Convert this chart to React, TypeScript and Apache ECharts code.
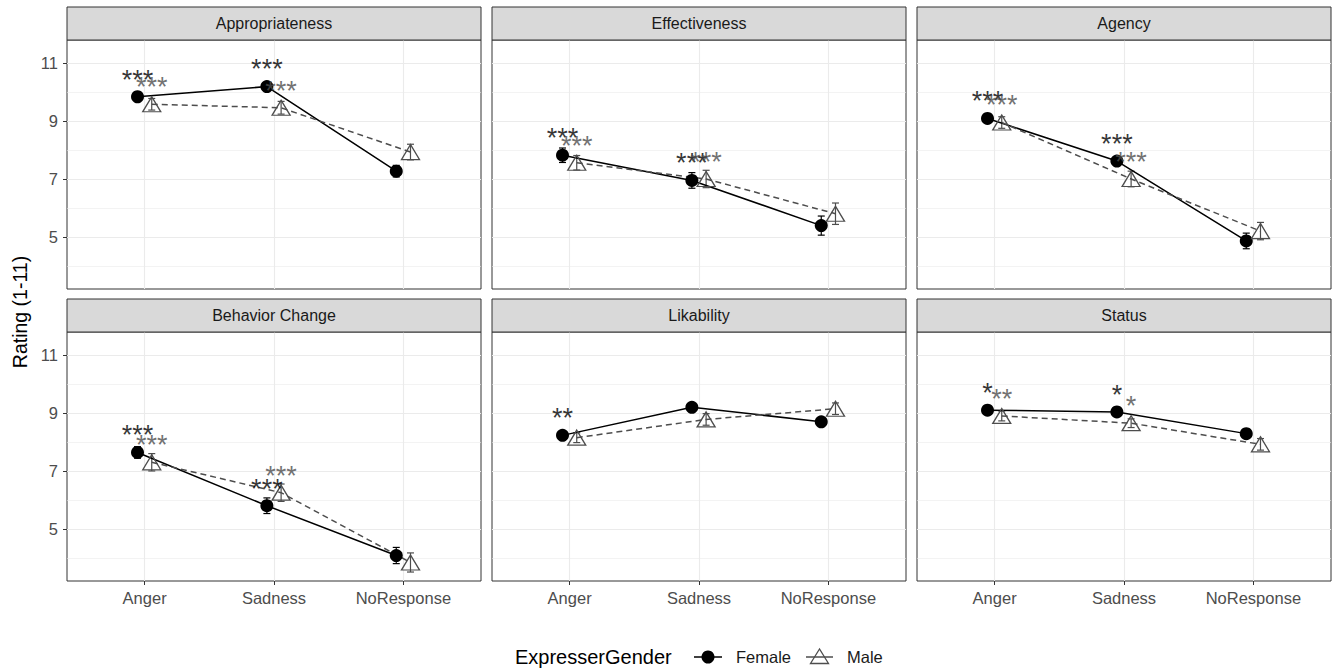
import React, { useEffect, useRef } from "react";
import * as echarts from "echarts";

const panelTitles = ["Appropriateness", "Effectiveness", "Agency", "Behavior Change", "Likability", "Status"];
const categories = ["Anger", "Sadness", "NoResponse"];
const yTickValues = [5, 7, 9, 11];
const yMinorValues = [4, 6, 8, 10];

const femaleMeans = [
  [9.84, 10.19, 7.27],
  [7.82, 6.95, 5.39],
  [9.09, 7.62, 4.86],
  [7.64, 5.8, 4.08],
  [8.23, 9.2, 8.7],
  [9.1, 9.04, 8.29],
];
const maleMeans = [
  [9.58, 9.46, 7.93],
  [7.56, 7.0, 5.8],
  [8.95, 7.0, 5.2],
  [7.3, 6.25, 3.84],
  [8.15, 8.78, 9.15],
  [8.9, 8.65, 7.92],
];
const femaleErr = [
  [0.12, 0.1, 0.2],
  [0.25, 0.27, 0.33],
  [0.12, 0.12, 0.27],
  [0.2, 0.27, 0.28],
  [0.12, 0.08, 0.1],
  [0.1, 0.08, 0.12],
];
const maleErr = [
  [0.2, 0.22, 0.27],
  [0.25, 0.3, 0.37],
  [0.2, 0.27, 0.3],
  [0.3, 0.3, 0.33],
  [0.17, 0.2, 0.2],
  [0.17, 0.15, 0.2],
];
const femaleStars = [
  ["***", "***", ""],
  ["***", "***", ""],
  ["***", "***", ""],
  ["***", "***", ""],
  ["**", "", ""],
  ["*", "*", ""],
];
const maleStars = [
  ["***", "***", ""],
  ["***", "***", ""],
  ["***", "***", ""],
  ["***", "***", ""],
  ["", "", ""],
  ["**", "*", ""],
];

const FONT = "'Liberation Sans', Arial, Helvetica, sans-serif";
const FEMALE_COLOR = "#000000";
const MALE_COLOR = "#4D4D4D";
const DODGE = 0.055;
const STAR_OFFSET = 0.8;

export default function App() {
  const ref = useRef<HTMLDivElement>(null);

  useEffect(() => {
    if (!ref.current) return;
    const chart = echarts.init(ref.current, null, { renderer: "svg" });

    const lefts = [67, 492, 917];
    const width = 414;
    const stripTops = [7, 299];
    const stripH = 33;
    const plotH = 249;

    const grids: any[] = [];
    const xAxes: any[] = [];
    const yAxes: any[] = [];
    const series: any[] = [];
    const graphics: any[] = [];

    panelTitles.forEach((title, p) => {
      const row = Math.floor(p / 3);
      const col = p % 3;
      const left = lefts[col];
      const top = stripTops[row] + stripH;
      grids.push({
        left,
        top,
        width,
        height: plotH,
        show: true,
        backgroundColor: "#FFFFFF",
        borderColor: "#333333",
        borderWidth: 1,
        containLabel: false,
      });
      const bottomRow = row === 1;
      const leftCol = col === 0;
      xAxes.push({
        type: "value",
        gridIndex: p,
        min: 0.4,
        max: 3.6,
        axisLine: { show: false },
        axisTick: {
          show: bottomRow,
          customValues: [1, 2, 3],
          length: 4,
          lineStyle: { color: "#333333", width: 1 },
        },
        axisLabel: {
          show: bottomRow,
          customValues: [1, 2, 3],
          formatter: (v: number) => categories[Math.round(v) - 1] ?? "",
          color: "#4D4D4D",
          fontSize: 16.5,
          fontFamily: FONT,
          margin: 8,
        },
        splitLine: { show: true, lineStyle: { color: "#EBEBEB", width: 1.1 } },
      });
      yAxes.push({
        type: "value",
        gridIndex: p,
        min: 3.2,
        max: 11.8,
        axisLine: { show: false },
        axisTick: {
          show: leftCol,
          customValues: yTickValues,
          length: 4,
          lineStyle: { color: "#333333", width: 1 },
        },
        axisLabel: {
          show: leftCol,
          customValues: yTickValues,
          color: "#4D4D4D",
          fontSize: 16.5,
          fontFamily: FONT,
          margin: 9,
        },
        splitLine: { show: true, lineStyle: { color: "#EBEBEB", width: 1.1 } },
      });
      yAxes.push({
        type: "value",
        gridIndex: p,
        min: 3.2,
        max: 11.8,
        position: "left",
        axisLine: { show: false },
        axisTick: { show: false, customValues: yMinorValues },
        axisLabel: { show: false, customValues: yMinorValues },
        splitLine: { show: true, lineStyle: { color: "#EBEBEB", width: 0.6 } },
      });
      const yIdx = p * 2;

      graphics.push({
        type: "rect",
        shape: { x: left, y: stripTops[row], width, height: stripH },
        style: { fill: "#D9D9D9", stroke: "#333333", lineWidth: 1 },
        z: 100,
      });
      graphics.push({
        type: "text",
        x: left + width / 2,
        y: stripTops[row] + stripH / 2,
        style: {
          text: title,
          fill: "#1A1A1A",
          font: `16px ${FONT}`,
          textAlign: "center",
          textVerticalAlign: "middle",
        },
        z: 101,
      });

      const groups = [
        { name: "Female", means: femaleMeans[p], err: femaleErr[p], stars: femaleStars[p], dx: -DODGE, color: FEMALE_COLOR, female: true },
        { name: "Male", means: maleMeans[p], err: maleErr[p], stars: maleStars[p], dx: DODGE, color: MALE_COLOR, female: false },
      ];

      groups.forEach((g) => {
        series.push({
          type: "custom",
          name: g.name + "-err",
          xAxisIndex: p,
          yAxisIndex: yIdx,
          z: 3,
          silent: true,
          data: g.means.map((m, i) => [i + 1 + g.dx, m - g.err[i], m + g.err[i]]),
          encode: { x: 0, y: [1, 2] },
          renderItem: (params: any, api: any) => {
            const x = api.value(0);
            const lo = api.coord([x, api.value(1)]);
            const hi = api.coord([x, api.value(2)]);
            const w = 3.5;
            const st = { stroke: g.color, lineWidth: 1.2 };
            return {
              type: "group",
              children: [
                { type: "line", shape: { x1: lo[0], y1: lo[1], x2: hi[0], y2: hi[1] }, style: st },
                { type: "line", shape: { x1: lo[0] - w, y1: lo[1], x2: lo[0] + w, y2: lo[1] }, style: st },
                { type: "line", shape: { x1: hi[0] - w, y1: hi[1], x2: hi[0] + w, y2: hi[1] }, style: st },
              ],
            };
          },
        });
        series.push({
          type: "line",
          name: g.name,
          xAxisIndex: p,
          yAxisIndex: yIdx,
          z: 4,
          data: g.means.map((m, i) => [i + 1 + g.dx, m]),
          symbol: g.female ? "circle" : "triangle",
          symbolSize: g.female ? 13 : [18, 15],
          showAllSymbol: true,
          lineStyle: {
            color: g.color,
            width: 1.5,
            type: g.female ? "solid" : [6, 4],
          },
          itemStyle: g.female
            ? { color: g.color, borderWidth: 0 }
            : { color: "rgba(255,255,255,0)", borderColor: g.color, borderWidth: 1.3 },
          emphasis: { disabled: true },
        });
        series.push({
          type: "scatter",
          name: g.name + "-stars",
          xAxisIndex: p,
          yAxisIndex: yIdx,
          z: 6,
          silent: true,
          symbolSize: 1,
          itemStyle: { color: "transparent" },
          data: g.means
            .map((m, i) => [i + 1 + g.dx, m + STAR_OFFSET, g.stars[i]])
            .filter((d) => d[2] !== ""),
          label: {
            show: true,
            position: "inside",
            formatter: (pp: any) => pp.value[2],
            color: g.color,
            fontSize: 27,
            fontFamily: FONT,
            offset: [0, 6],
          },
        });
      });
    });

    graphics.push({
      type: "text",
      x: 20,
      y: 312,
      rotation: Math.PI / 2,
      style: {
        text: "Rating (1-11)",
        fill: "#000000",
        font: `19.5px ${FONT}`,
        textAlign: "center",
        textVerticalAlign: "middle",
      },
    });

    const ly = 657;
    graphics.push({
      type: "text",
      x: 515,
      y: ly,
      style: { text: "ExpresserGender", fill: "#000000", font: `20px ${FONT}`, textVerticalAlign: "middle" },
    });
    graphics.push({
      type: "line",
      shape: { x1: 694, y1: ly, x2: 722, y2: ly },
      style: { stroke: FEMALE_COLOR, lineWidth: 1.5 },
    });
    graphics.push({
      type: "circle",
      shape: { cx: 708, cy: ly, r: 6.5 },
      style: { fill: FEMALE_COLOR },
    });
    graphics.push({
      type: "text",
      x: 736,
      y: ly,
      style: { text: "Female", fill: "#1A1A1A", font: `16.5px ${FONT}`, textVerticalAlign: "middle" },
    });
    graphics.push({
      type: "line",
      shape: { x1: 806, y1: ly, x2: 833, y2: ly },
      style: { stroke: MALE_COLOR, lineWidth: 1.5 },
    });
    graphics.push({
      type: "polygon",
      shape: { points: [[819.5, ly - 8], [810.5, ly + 6.5], [828.5, ly + 6.5]] },
      style: { fill: "rgba(255,255,255,0)", stroke: MALE_COLOR, lineWidth: 1.3 },
    });
    graphics.push({
      type: "text",
      x: 847,
      y: ly,
      style: { text: "Male", fill: "#1A1A1A", font: `16.5px ${FONT}`, textVerticalAlign: "middle" },
    });

    chart.setOption({
      animation: false,
      backgroundColor: "#FFFFFF",
      grid: grids,
      xAxis: xAxes,
      yAxis: yAxes,
      series,
      graphic: graphics,
    });

    return () => chart.dispose();
  }, []);

  return (
    <div
      ref={ref}
      style={{ position: "absolute", left: 0, top: 0, width: 1339, height: 669 }}
    />
  );
}
